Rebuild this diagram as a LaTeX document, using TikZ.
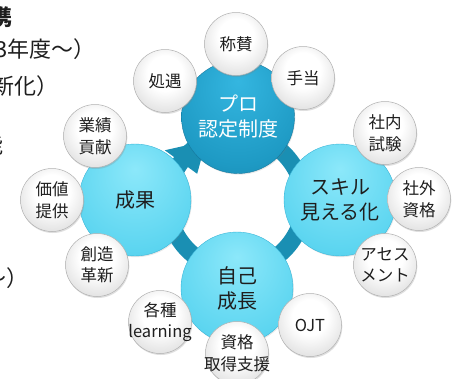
\documentclass[tikz,border=0pt]{standalone}
\usepackage{fontspec}
\newfontfamily\jp{Noto Sans CJK JP}
\usetikzlibrary{shadows}
\definecolor{ringc}{HTML}{1A8FB3}
\definecolor{cy0}{HTML}{8CE8FA}
\definecolor{cy1}{HTML}{5CD5F0}
\definecolor{cy2}{HTML}{40C0E2}
\definecolor{cyedge}{HTML}{3CB6D8}
\definecolor{te0}{HTML}{34B6E0}
\definecolor{te1}{HTML}{1E9AC4}
\definecolor{te2}{HTML}{13789E}
\definecolor{gb0}{HTML}{FFFFFF}
\definecolor{gb1}{HTML}{DADADA}
\definecolor{gb2}{HTML}{A6A6A6}
\definecolor{gb3}{HTML}{C4C4C4}
\definecolor{gedge}{HTML}{B0B0B0}
\definecolor{txt}{HTML}{1E1E1E}
\pgfdeclareradialshading{greyball}{\pgfpoint{0bp}{8bp}}{color(0bp)=(gb0); color(14bp)=(gb0); color(34bp)=(gb1); color(47bp)=(gb2); color(52bp)=(gb3); color(60bp)=(gb3)}
\pgfdeclareradialshading{cyanball}{\pgfpoint{0bp}{14bp}}{color(0bp)=(cy0); color(30bp)=(cy1); color(50bp)=(cy2); color(64bp)=(cy2)}
\pgfdeclareradialshading{tealball}{\pgfpoint{0bp}{16bp}}{color(0bp)=(te0); color(30bp)=(te1); color(52bp)=(te2); color(66bp)=(te2)}
\begin{document}
\begin{tikzpicture}[x=1pt,y=-1pt]
\tikzset{
  ring/.style={draw=ringc, line width=17pt},
  bigball/.style={circle, inner sep=0pt, minimum size=112pt, shading=cyanball, draw=cyedge, line width=0.4pt,
    drop shadow={opacity=0.18, shadow xshift=0.8pt, shadow yshift=-1.2pt}},
  proball/.style={circle, inner sep=0pt, minimum size=113pt, shading=tealball, draw=te2, line width=0.4pt,
    drop shadow={opacity=0.18, shadow xshift=0.8pt, shadow yshift=-1.2pt}},
  ball/.style={circle, inner sep=0pt, minimum size=63pt, shading=greyball, draw=gedge, line width=0.5pt,
    drop shadow={opacity=0.25, shadow xshift=0.8pt, shadow yshift=-1.5pt}},
  bigtxt/.style={font=\jp\fontsize{20}{25}\selectfont, align=center, text=txt, inner sep=0pt},
  protxt/.style={font=\jp\fontsize{20}{25}\selectfont, align=center, text=white, inner sep=0pt},
  smalltxt/.style={font=\jp\fontsize{16.5}{21.5}\selectfont, align=center, text=txt, inner sep=0pt},
  sidetxt/.style={font=\jp\fontsize{22}{26}\selectfont, inner sep=0pt, text=txt}
}
\fill[white] (0,0) rectangle (461,378);
\useasboundingbox (0,0) rectangle (461,378);

% cut-off texts at the left edge
\node[sidetxt, font=\jp\bfseries\fontsize{22}{26}\selectfont, anchor=east] (s1) at (13,17) {携};
\node[sidetxt, anchor=west] (s2) at (-5,49) {3年度～）};
\node[sidetxt, anchor=west] (s3) at (-8,86) {新化）};
\node[sidetxt, anchor=east] (s4) at (4,145) {能};
\node[sidetxt, anchor=west] (s5) at (-16,278) {～）};

% ring with arrow
\coordinate (rc) at (236,202);
\draw[ring] (rc) circle (68);
\coordinate (a1) at ([shift={(rc)}]216:88);
\coordinate (a2) at ([shift={(rc)}]216:48);
\coordinate (a3) at ([shift={(rc)}]244:68);
\fill[ringc] (a1) -- (a3) -- (a2) -- cycle;

% big circles
\node[proball] (pro) at (238,117) {};
\node[bigball] (skill) at (340,200) {};
\node[bigball] (seika) at (135,200) {};
\node[bigball] (jiko) at (237,288) {};

% small balls
\node[ball] (shoyu) at (165,81) {};
\node[ball] (shosan) at (236,44) {};
\node[ball] (teate) at (303,78) {};
\node[ball] (shanai) at (385,133) {};
\node[ball] (shagai) at (419,199) {};
\node[ball] (asesu) at (385,265) {};
\node[ball] (gyoseki) at (95,136) {};
\node[ball] (kachi) at (52,200) {};
\node[ball] (sozo) at (97,265) {};
\node[ball] (kakushu) at (160,322) {};
\node[ball] (shikaku) at (237,353) {};
\node[ball] (ojt) at (310,325) {};

% texts
\node[protxt] at (pro) {プロ\\認定制度};
\node[bigtxt] at (skill) {スキル\\見える化};
\node[bigtxt] at (seika) {成果};
\node[bigtxt] at (jiko) {自己\\成長};
\node[smalltxt] at (shoyu) {処遇};
\node[smalltxt] at (shosan) {称賛};
\node[smalltxt] at (teate) {手当};
\node[smalltxt] at (shanai) {社内\\試験};
\node[smalltxt] at (shagai) {社外\\資格};
\node[smalltxt] at (asesu) {アセス\\メント};
\node[smalltxt] at (gyoseki) {業績\\貢献};
\node[smalltxt] at (kachi) {価値\\提供};
\node[smalltxt] at (sozo) {創造\\革新};
\node[smalltxt] at (kakushu) {各種\\learning};
\node[smalltxt] at (shikaku) {資格\\取得支援};
\node[smalltxt] at (ojt) {OJT};
\end{tikzpicture}
\end{document}
